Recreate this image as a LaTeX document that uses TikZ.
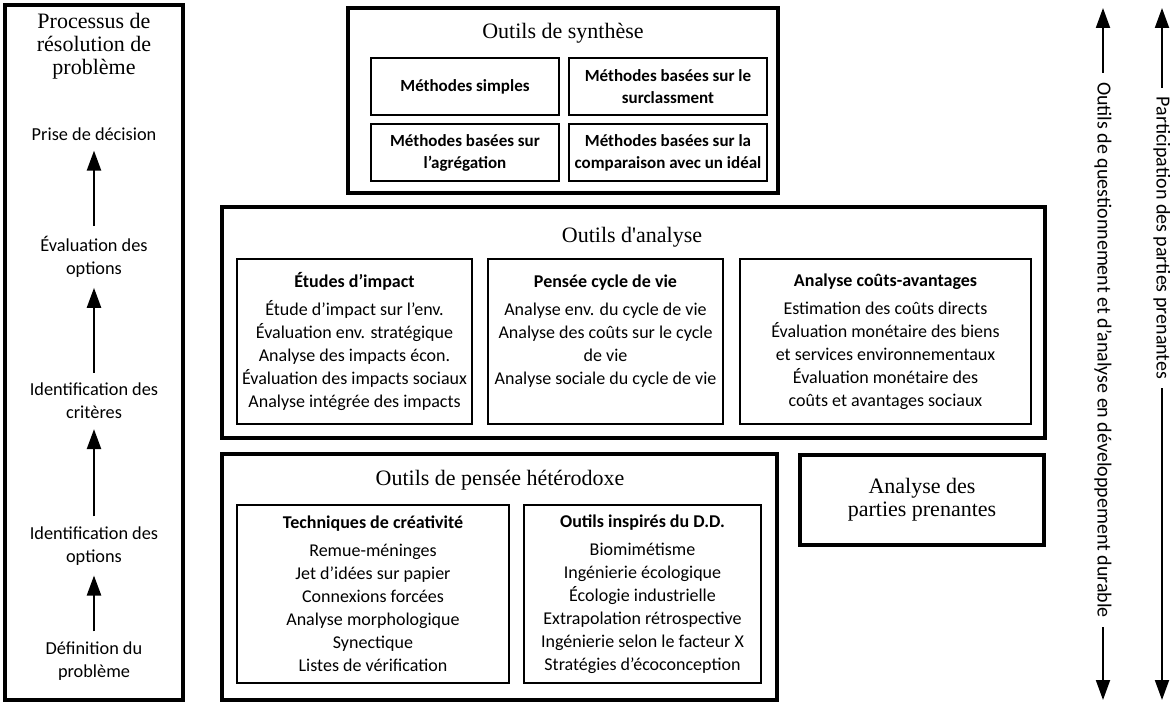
\documentclass[tikz,border=0pt]{standalone}
\usepackage{fontspec}
\setmainfont{Carlito}
\newfontfamily\serifttl{Liberation Serif}
\usetikzlibrary{arrows.meta, positioning}

\begin{document}
\begin{tikzpicture}[
    x=1pt, y=-1pt,
    frame/.style={rectangle, draw, line width=3.4pt, inner sep=0pt},
    subbox/.style={rectangle, draw, line width=2.2pt, align=center, inner sep=0pt, font=\fontsize{18}{23}\selectfont},
    methbox/.style={subbox, font=\bfseries\fontsize{17}{22}\selectfont, minimum width=#1, minimum height=57pt},
    ttl/.style={align=center, inner sep=1pt, font=\serifttl\fontsize{22}{23}\selectfont},
    stage/.style={align=center, inner sep=2pt, font=\fontsize{18.3}{23}\selectfont},
    rotlabel/.style={rotate=-90, inner sep=9pt, font=\fontsize{20}{22}\selectfont},
    uparrow/.style={-{Triangle[length=20pt, width=14pt]}, line width=2.4pt, shorten >=8pt, shorten <=8pt},
    sidearrow/.style={-{Triangle[length=20pt, width=14pt]}, line width=2pt}
]
    \useasboundingbox (0,0) rectangle (1170,706);

    % Processus de resolution de probleme
    \node[frame, minimum width=178pt, minimum height=695pt] (process) at (94,352.5) {};
    \node[ttl] (processttl) at (94,46) {Processus de\\résolution de\\problème};
    \node[stage] (decision) at (94,134) {Prise de décision};
    \node[stage] (evaluation) at (94,257) {Évaluation des\\options};
    \node[stage] (criteres) at (94,401) {Identification des\\critères};
    \node[stage] (options) at (94,546) {Identification des\\options};
    \node[stage] (definition) at (94,661) {Définition du\\problème};
    \draw[uparrow] (evaluation) -- (decision);
    \draw[uparrow] (criteres) -- (evaluation);
    \draw[uparrow] (options) -- (criteres);
    \draw[uparrow] (definition) -- (options);

    % Outils de synthese
    \node[frame, minimum width=430pt, minimum height=185pt] (synth) at (563,100.5) {};
    \node[ttl] (synthttl) at (563,33) {Outils de synthèse};
    \node[methbox=188pt] (simple) at (465,86.5) {Méthodes simples};
    \node[methbox=198pt] (surclass) at (668,86.5) {Méthodes basées sur le\\surclassment};
    \node[methbox=188pt] (aggreg) at (465,152.5) {Méthodes basées sur\\l’agrégation};
    \node[methbox=198pt] (ideal) at (668,152.5) {Méthodes basées sur la\\comparaison avec un idéal};

    % Outils d'analyse
    \node[frame, minimum width=823pt, minimum height=231pt] (analyse) at (633.5,322.5) {};
    \node[ttl] (analysettl) at (632,237) {Outils d'analyse};
    \node[subbox, minimum width=235pt, minimum height=165pt] (impact) at (354.5,341.5) {\textbf{Études d’impact}\\[5pt]
        Étude d’impact sur l’env.\\Évaluation env. stratégique\\Analyse des impacts écon.\\Évaluation des impacts sociaux\\Analyse intégrée des impacts};
    \node[subbox, minimum width=235pt, minimum height=165pt] (cycle) at (605.5,341.5) {\textbf{Pensée cycle de vie}\\[5pt]
        Analyse env. du cycle de vie\\Analyse des coûts sur le cycle\\de vie\\Analyse sociale du cycle de vie\\\mbox{}};
    \node[subbox, minimum width=291pt, minimum height=165pt] (couts) at (885.5,341.5) {\textbf{Analyse coûts-avantages}\\[5pt]
        Estimation des coûts directs\\Évaluation monétaire des biens\\et services environnementaux\\Évaluation monétaire des\\coûts et avantages sociaux};

    % Outils de pensee heterodoxe
    \node[frame, minimum width=555pt, minimum height=246pt] (hetero) at (499.5,577) {};
    \node[ttl] (heterottl) at (500,480) {Outils de pensée hétérodoxe};
    \node[subbox, minimum width=272pt, minimum height=178pt] (creativ) at (373,594) {\textbf{Techniques de créativité}\\[5pt]
        Remue-méninges\\Jet d’idées sur papier\\Connexions forcées\\Analyse morphologique\\Synectique\\Listes de vérification};
    \node[subbox, minimum width=237pt, minimum height=178pt] (dd) at (642.5,594) {\textbf{Outils inspirés du D.D.}\\[5pt]
        Biomimétisme\\Ingénierie écologique\\Écologie industrielle\\Extrapolation rétrospective\\Ingénierie selon le facteur X\\Stratégies d’écoconception};

    % Analyse des parties prenantes
    \node[frame, minimum width=244pt, minimum height=90pt, align=center, font=\serifttl\fontsize{22}{23}\selectfont] (prenantes) at (922,500) {Analyse des\\parties prenantes};

    % Fleches laterales
    \coordinate (qtop) at (1103,8);
    \coordinate (qbot) at (1103,700);
    \node[rotlabel] (qtext) at (1103,350) {Outils de questionnement et d’analyse en développement durable};
    \draw[sidearrow] (qtext.west) -- (qtop);
    \draw[sidearrow] (qtext.east) -- (qbot);

    \coordinate (ptop) at (1162,8);
    \coordinate (pbot) at (1162,700);
    \node[rotlabel] (ptext) at (1162,238) {Participation des parties prenantes};
    \draw[sidearrow] (ptext.west) -- (ptop);
    \draw[sidearrow] (ptext.east) -- (pbot);
\end{tikzpicture}
\end{document}
